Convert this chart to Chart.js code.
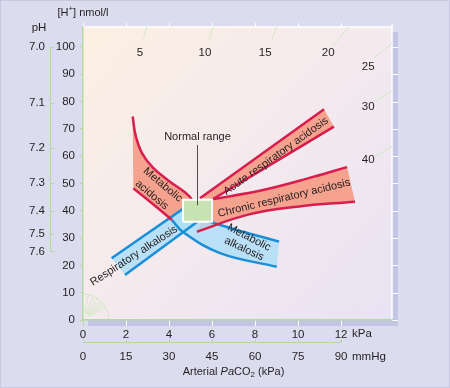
<!DOCTYPE html>
<html>
<head>
<meta charset="utf-8">
<script src="https://cdn.jsdelivr.net/npm/chart.js@4.4.1/dist/chart.umd.min.js"></script>
<style>
  html, body { margin: 0; padding: 0; background: #dcdcef; }
  #wrap { width: 450px; height: 388px; }
</style>
</head>
<body>
<div id="wrap"><canvas id="chart" width="450" height="388"></canvas></div>
<script>
// axis ranges and tick labels
const kpaMax = 14.37;
const hMax = 107.3;
const kpaTicks = [0, 2, 4, 6, 8, 10, 12];
const mmHgTicks = [0, 15, 30, 45, 60, 75, 90];
const hTicks = [0, 10, 20, 30, 40, 50, 60, 70, 80, 90, 100];
const phTicks = ['7.0', '7.1', '7.2', '7.3', '7.4', '7.5', '7.6'];

// band outlines, points as [PaCO2 kPa, H+ nmol/l]
const metAcidUpper = [[2.31, 74.5], [2.45, 67.5], [2.75, 61.0], [3.25, 55.8], [3.95, 51.2], [4.74, 46.8], [5.06, 44.3]];
const metAcidLower = [[2.34, 48.2], [3.12, 43.3], [4.14, 36.6]];
const acuteUpper = [[5.44, 44.6], [11.21, 77.2]];
const acuteLower = [[6.05, 44.3], [11.67, 70.8]];
const chronicUpper = [[6.05, 44.3], [8.37, 47.6], [10.7, 52.4], [12.28, 56.0]];
const chronicLower = [[5.30, 32.3], [7.63, 38.5], [9.95, 41.5], [12.65, 43.3]];
const respAlkUpper = [[1.33, 22.6], [4.65, 40.7]];
const respAlkLower = [[1.95, 16.5], [5.30, 35.9]];
const metAlkUpper = [[4.65, 39.6], [5.99, 35.8], [7.46, 32.3], [9.12, 28.7]];
const metAlkLower = [[4.14, 36.6], [4.65, 32.2], [6.37, 24.5], [9.01, 19.5]];
const normalKpa = [4.65, 6.0];
const normalH = [36, 44];

// iso-bicarbonate (mmol/l) marks near the frame
const isoValues = ['5', '10', '15', '20', '25', '30', '40'];
const isoSegments = [
  [[2.97, 107.3], [2.80, 103.0]],
  [[6.05, 107.3], [5.86, 102.6]],
  [[9.00, 107.3], [8.78, 102.8]],
  [[12.37, 107.3], [11.63, 100.7]],
  [[14.37, 101.4], [13.58, 96.4]],
  [[14.37, 84.0], [13.58, 80.0]],
  [[14.37, 63.5], [13.58, 59.8]]
];

// text placement (data coords) and rotation in degrees
const isoLabelAt = [[2.65, 97.8], [5.67, 97.8], [8.47, 97.8], [11.4, 97.8], [13.26, 92.7], [13.26, 78], [13.26, 58.6]];
const bandLabels = [
  { text: 'Metabolic', at: [3.71, 49.5], angle: 40 },
  { text: 'acidosis', at: [3.20, 45.8], angle: 40 },
  { text: 'Acute respiratory acidosis', at: [8.97, 60.0], angle: -35.6 },
  { text: 'Chronic respiratory acidosis', at: [9.35, 44.6], angle: -13.5 },
  { text: 'Respiratory alkalosis', at: [2.37, 23.5], angle: -33 },
  { text: 'Metabolic', at: [7.72, 30.2], angle: 27 },
  { text: 'alkalosis', at: [7.49, 26.0], angle: 25 }
];

const FONT = '"Liberation Sans", Arial, Helvetica, sans-serif';
const TEXT = '#231f20';
const GREEN = '#b3daa0';
const RED_LINE = '#d81d4f';
const RED_FILL = '#f5a28e';
const BLUE_LINE = '#1a8fd8';
const BLUE_FILL = 'rgba(172, 222, 248, 0.82)';

const toPts = arr => arr.map(([x, y]) => ({ x, y }));

// closed outline of a band; end corners doubled so the cut ends stay straight
function bandShape(upper, lower) {
  const u = toPts(upper);
  const l = toPts(lower).reverse();
  return [...u, u[u.length - 1], l[0], ...l];
}

function fillSet(data, color, order) {
  return { data, fill: 'shape', backgroundColor: color, borderWidth: 0, order };
}
function lineSet(data, color, order) {
  return { data: toPts(data), borderColor: color, borderWidth: 2.5, order };
}

const boxPts = toPts([
  [normalKpa[0], normalH[0]], [normalKpa[1], normalH[0]],
  [normalKpa[1], normalH[1]], [normalKpa[0], normalH[1]], [normalKpa[0], normalH[0]]
]);

const datasets = [
  { data: boxPts, fill: 'shape', backgroundColor: '#c6e3b1', borderColor: '#ffffff', borderWidth: 2, tension: 0, order: 1 },
  lineSet(metAcidUpper, RED_LINE, 5),
  lineSet(metAcidLower, RED_LINE, 5),
  lineSet(acuteUpper, RED_LINE, 5),
  lineSet(acuteLower, RED_LINE, 5),
  lineSet(chronicUpper, RED_LINE, 5),
  lineSet(chronicLower, RED_LINE, 5),
  lineSet(respAlkUpper, BLUE_LINE, 6),
  lineSet(respAlkLower, BLUE_LINE, 6),
  lineSet(metAlkUpper, BLUE_LINE, 6),
  lineSet(metAlkLower, BLUE_LINE, 6),
  fillSet(bandShape(respAlkUpper, respAlkLower), BLUE_FILL, 10),
  fillSet(bandShape(metAlkUpper, metAlkLower), BLUE_FILL, 10),
  fillSet(bandShape(metAcidUpper, metAcidLower), RED_FILL, 12),
  fillSet(bandShape(acuteUpper, acuteLower), RED_FILL, 12),
  fillSet(bandShape(chronicUpper, chronicLower), RED_FILL, 12)
];
isoSegments.forEach(seg => {
  datasets.push({ data: toPts(seg), borderColor: '#d3e8c6', borderWidth: 1, tension: 0, order: 20 });
});

function drawText(ctx, text, x, y, align, size) {
  ctx.font = (size || 11) + 'px ' + FONT;
  ctx.textAlign = align || 'center';
  ctx.textBaseline = 'middle';
  ctx.fillText(text, x, y);
}

// frame, background and the decoration near the origin
const backdrop = {
  id: 'backdrop',
  beforeDraw(chart) {
    const { ctx, chartArea: a } = chart;
    const { x, y } = chart.scales;
    ctx.save();
    ctx.fillStyle = '#dcdcef';
    ctx.fillRect(0, 0, chart.width, chart.height);
    ctx.strokeStyle = '#c7c7e1';
    ctx.lineWidth = 1;
    ctx.strokeRect(0.5, 0.5, chart.width - 1, chart.height - 1);

    ctx.fillStyle = '#c2c5e4';
    ctx.fillRect(a.left + 5, a.bottom, a.right - a.left + 1, 6);
    ctx.fillRect(a.right, a.top + 5, 6, a.bottom - a.top + 1);

    const g = ctx.createLinearGradient(a.left, a.top, a.right, a.bottom);
    g.addColorStop(0, '#fdefe2');
    g.addColorStop(0.5, '#f4eaee');
    g.addColorStop(1, '#e8e3f3');
    ctx.fillStyle = g;
    ctx.fillRect(a.left, a.top, a.right - a.left, a.bottom - a.top);

    ctx.strokeStyle = '#ffffff';
    ctx.lineWidth = 1.5;
    ctx.beginPath();
    ctx.moveTo(a.left, a.top);
    ctx.lineTo(a.right, a.top);
    ctx.lineTo(a.right, a.bottom);
    ctx.stroke();
    ctx.lineWidth = 1;
    ctx.beginPath();
    kpaTicks.forEach(v => {
      const px = Math.round(x.getPixelForValue(v)) + 0.5;
      ctx.moveTo(px, a.top);
      ctx.lineTo(px, a.top - 4);
    });
    ctx.moveTo(a.right, a.top);
    ctx.lineTo(a.right, a.top - 4);
    hTicks.forEach(v => {
      const py = Math.round(y.getPixelForValue(v)) + 0.5;
      ctx.moveTo(a.right, py);
      ctx.lineTo(a.right + 6, py);
    });
    ctx.stroke();

    // fan of iso lines at the origin
    const ox = x.getPixelForValue(0), oy = y.getPixelForValue(0);
    ctx.strokeStyle = '#d3e8c6';
    ctx.beginPath();
    ctx.arc(ox, oy, 26, -Math.PI / 2, 0);
    isoSegments.forEach(seg => {
      const dx = x.getPixelForValue(seg[0][0]) - ox;
      const dy = y.getPixelForValue(seg[0][1]) - oy;
      const len = Math.hypot(dx, dy);
      ctx.moveTo(ox + dx / len * 7, oy + dy / len * 7);
      ctx.lineTo(ox + dx / len * 26, oy + dy / len * 26);
    });
    ctx.stroke();
    ctx.restore();
  }
};

// extra axis lines and all free text
const annotations = {
  id: 'annotations',
  afterDraw(chart) {
    const { ctx, chartArea: a } = chart;
    const { x, y, ph, mmHg } = chart.scales;
    ctx.save();
    ctx.fillStyle = TEXT;

    // pH scale line
    const phX = ph.right + 0.5;
    ctx.strokeStyle = GREEN;
    ctx.lineWidth = 1;
    ctx.beginPath();
    const phPix = ph.ticks.map(t => Math.round(ph.getPixelForValue(t.value)) + 0.5);
    ctx.moveTo(phX, phPix[0]);
    ctx.lineTo(phX, phPix[phPix.length - 1]);
    phPix.forEach(py => { ctx.moveTo(phX, py); ctx.lineTo(phX + 4, py); });
    ctx.stroke();

    // mmHg scale line
    const my = mmHg.top + 0.5;
    ctx.beginPath();
    ctx.moveTo(mmHg.getPixelForValue(0), my);
    ctx.lineTo(mmHg.getPixelForValue(mmHgTicks[mmHgTicks.length - 1]), my);
    mmHgTicks.forEach(v => {
      const px = Math.round(mmHg.getPixelForValue(v)) + 0.5;
      ctx.moveTo(px, my);
      ctx.lineTo(px, my - 3);
    });
    ctx.stroke();

    // axis captions
    drawText(ctx, 'pH', 39, 28, 'center', 11.5);
    const hx = x.getPixelForValue(0);
    ctx.font = '11px ' + FONT;
    const w1 = ctx.measureText('[H').width;
    const w3 = ctx.measureText('] nmol/l').width;
    ctx.font = '8px ' + FONT;
    const w2 = ctx.measureText('+').width;
    let sx = hx - (w1 + w2 + w3) / 2;
    drawText(ctx, '[H', sx, 13, 'left');
    drawText(ctx, '+', sx + w1, 9, 'left', 8);
    drawText(ctx, '] nmol/l', sx + w1 + w2, 13, 'left');

    const lastKpa = x.getPixelForValue(kpaTicks[kpaTicks.length - 1]);
    drawText(ctx, 'kPa', lastKpa + 11, 334, 'left', 11.5);
    drawText(ctx, 'mmHg', lastKpa + 11, 357, 'left', 11.5);

    // x axis title with italic Pa and subscript 2
    const parts = [
      ['Arterial ', '11px ' + FONT, 0],
      ['Pa', 'italic 11px ' + FONT, 0],
      ['CO', '11px ' + FONT, 0],
      ['2', '8px ' + FONT, 3],
      [' (kPa)', '11px ' + FONT, 0]
    ];
    let total = 0;
    parts.forEach(p => { ctx.font = p[1]; total += ctx.measureText(p[0]).width; });
    sx = (a.left + a.right) / 2 - 4 - total / 2;
    ctx.textAlign = 'left';
    ctx.textBaseline = 'middle';
    parts.forEach(p => {
      ctx.font = p[1];
      ctx.fillText(p[0], sx, 372 + p[2]);
      sx += ctx.measureText(p[0]).width;
    });

    // iso bicarbonate numbers
    isoValues.forEach((t, i) => {
      drawText(ctx, t, x.getPixelForValue(isoLabelAt[i][0]), y.getPixelForValue(isoLabelAt[i][1]), 'center', 11.5);
    });

    // band names
    bandLabels.forEach(l => {
      ctx.save();
      ctx.translate(x.getPixelForValue(l.at[0]), y.getPixelForValue(l.at[1]));
      ctx.rotate(l.angle * Math.PI / 180);
      drawText(ctx, l.text, 0, 0);
      ctx.restore();
    });

    // normal range callout
    const nx = Math.round(x.getPixelForValue(5.30)) + 0.5;
    drawText(ctx, 'Normal range', nx, y.getPixelForValue(67.0));
    ctx.strokeStyle = '#4d4d4d';
    ctx.beginPath();
    ctx.moveTo(nx, y.getPixelForValue(64.1));
    ctx.lineTo(nx, y.getPixelForValue(42.0));
    ctx.stroke();
    ctx.restore();
  }
};

const tickFont = { family: FONT, size: 11.5 };

new Chart(document.getElementById('chart'), {
  type: 'scatter',
  data: { datasets },
  options: {
    responsive: false,
    animation: false,
    events: [],
    layout: { padding: { top: 27, right: 58, left: 0, bottom: 0 } },
    datasets: {
      scatter: { showLine: true, pointRadius: 0, tension: 0.4, fill: false }
    },
    plugins: { legend: { display: false }, tooltip: { enabled: false } },
    scales: {
      x: {
        type: 'linear', position: 'bottom', min: 0, max: kpaMax, weight: 0,
        afterFit: s => { s.height = 22; },
        afterBuildTicks: s => { s.ticks = kpaTicks.map(v => ({ value: v })); },
        grid: {
          drawOnChartArea: false, tickLength: 6, lineWidth: 1,
          color: c => (c.tick && c.tick.value === 0 ? GREEN : '#ffffff')
        },
        border: { color: GREEN, width: 1.5 },
        ticks: { font: tickFont, color: TEXT, padding: 2, maxRotation: 0 }
      },
      mmHg: {
        type: 'linear', position: 'bottom', min: 0, max: kpaMax * 7.5, weight: 1,
        afterFit: s => { s.height = 46; },
        afterBuildTicks: s => { s.ticks = mmHgTicks.map(v => ({ value: v })); },
        grid: { display: false, drawTicks: false },
        border: { display: false },
        ticks: { font: tickFont, color: TEXT, padding: 8, maxRotation: 0 }
      },
      y: {
        type: 'linear', position: 'left', min: 0, max: hMax, weight: 0,
        afterFit: s => { s.width = 33; },
        afterBuildTicks: s => { s.ticks = hTicks.map(v => ({ value: v })); },
        grid: { drawOnChartArea: false, tickLength: 3, color: GREEN },
        border: { color: GREEN, width: 1.5 },
        ticks: { font: tickFont, color: TEXT, padding: 5 }
      },
      ph: {
        type: 'linear', position: 'left', min: 0, max: hMax, weight: 1,
        afterFit: s => { s.width = 50; },
        afterBuildTicks: s => { s.ticks = phTicks.map(p => ({ value: Math.pow(10, 9 - Number(p)) })); },
        grid: { display: false, drawTicks: false },
        border: { display: false },
        ticks: {
          font: tickFont, color: TEXT, padding: 5,
          callback: v => (9 - Math.log10(v)).toFixed(1)
        }
      }
    }
  },
  plugins: [backdrop, annotations]
});
</script>
</body>
</html>
